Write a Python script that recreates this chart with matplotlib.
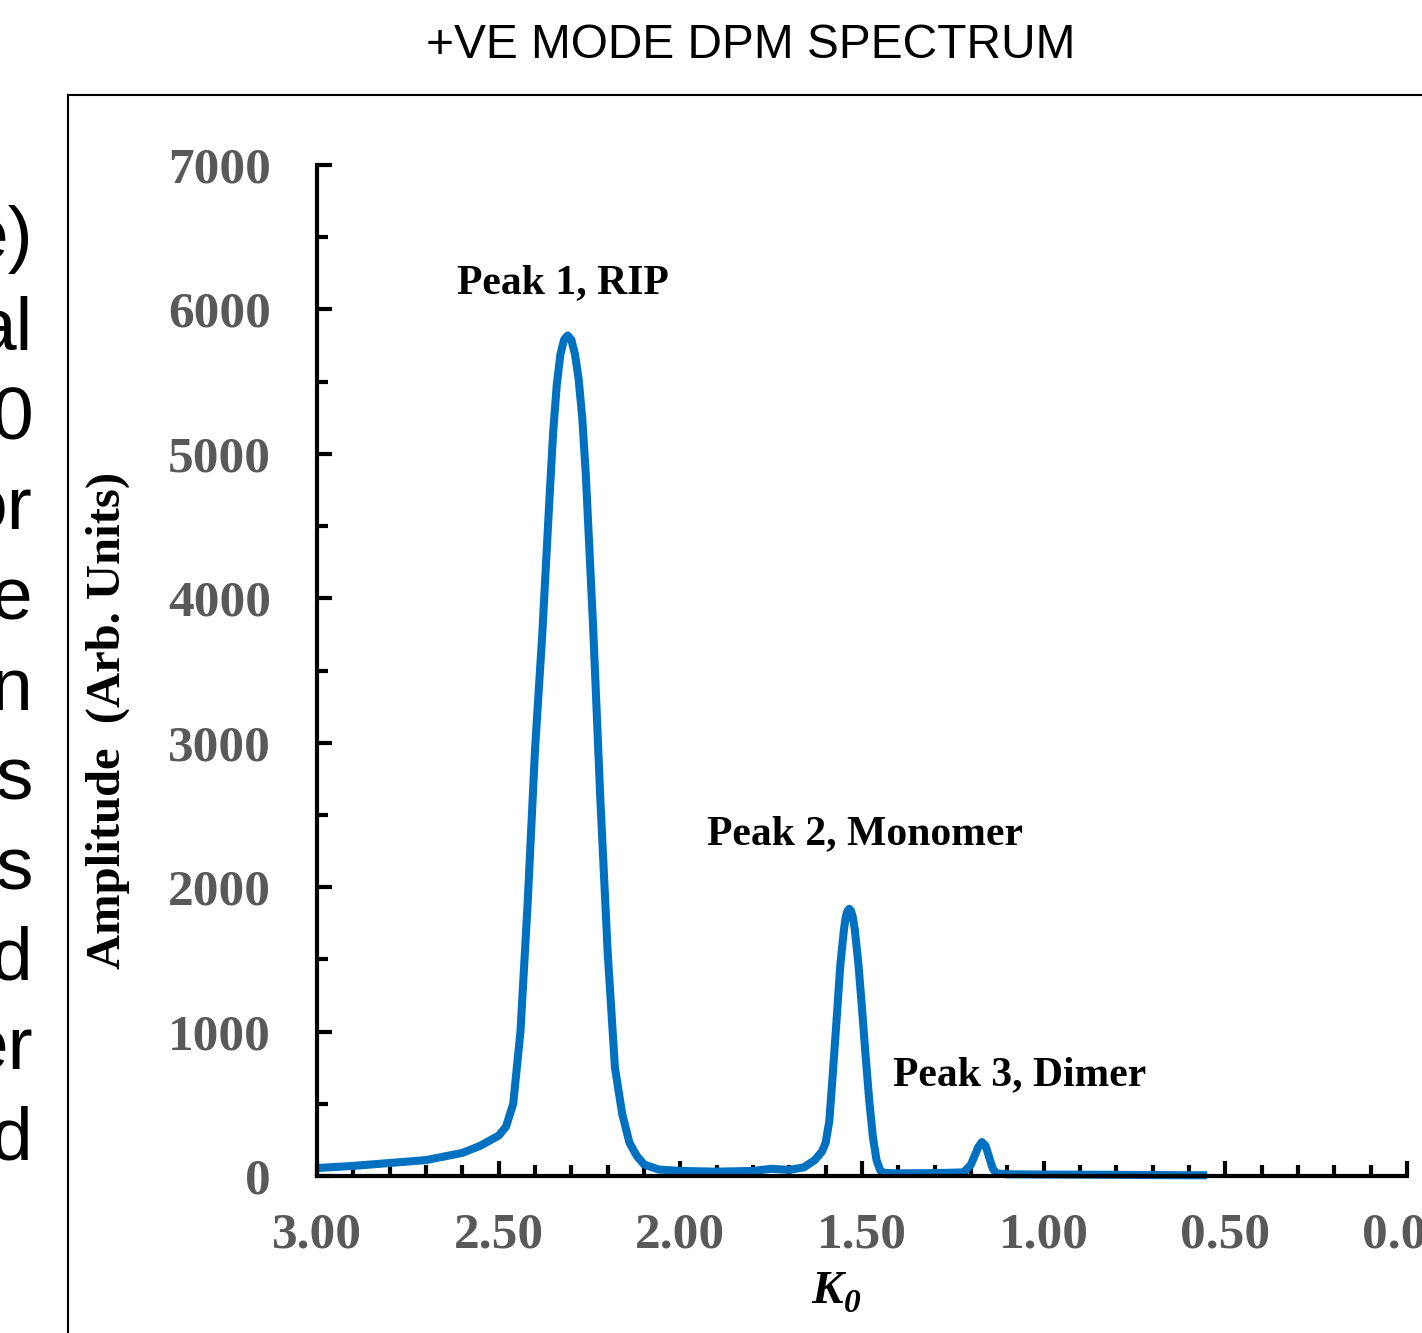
import numpy as np
import matplotlib.pyplot as plt
from matplotlib.lines import Line2D
from matplotlib.ticker import MultipleLocator, FormatStrFormatter

W, H = 1422, 1333

# spectrum
k0 = [3.00, 2.90, 2.80, 2.70, 2.60, 2.55, 2.50, 2.48, 2.46, 2.44, 2.42, 2.40,
      2.38, 2.36, 2.35, 2.34, 2.33, 2.32, 2.31, 2.30, 2.29, 2.28, 2.27, 2.26,
      2.24, 2.22, 2.20, 2.18, 2.16, 2.14, 2.12, 2.10, 2.06, 2.00, 1.90, 1.80,
      1.75, 1.70, 1.66, 1.63, 1.61, 1.60, 1.59, 1.58, 1.57, 1.56, 1.55, 1.545,
      1.54, 1.535, 1.53, 1.525, 1.52, 1.51, 1.50, 1.49, 1.48, 1.47, 1.46, 1.45,
      1.44, 1.40, 1.30, 1.22, 1.20, 1.18, 1.17, 1.16, 1.15, 1.14, 1.13, 1.10,
      1.00, 0.80, 0.60, 0.55]
amplitude = [55, 70, 90, 110, 160, 210, 280, 340, 500, 1000, 1900, 2950,
             3750, 4700, 5150, 5480, 5690, 5790, 5820, 5790, 5690, 5520, 5250, 4850,
             3800, 2600, 1550, 750, 430, 230, 140, 80, 45, 35, 30, 35,
             50, 42, 60, 110, 170, 230, 380, 720, 1080, 1450, 1700, 1790,
             1835, 1850, 1835, 1790, 1710, 1470, 1160, 830, 520, 270, 110, 40,
             22, 18, 20, 25, 80, 200, 235, 210, 130, 50, 18, 12,
             10, 8, 5, 5]

peak_labels = ['Peak 1, RIP', 'Peak 2, Monomer', 'Peak 3, Dimer']
peak_label_x = [2.323, 1.492, 1.065]
peak_label_y = [6180, 2370, 700]

# cut-off paragraph text at the left edge of the screenshot
side_text = ['e)', 'al', '0', 'or', 'e', 'n', 's', 's', 'd', 'er', 'd']

serif = 'Liberation Serif'
gray = '#595959'

fig = plt.figure(figsize=(W / 100, H / 100), dpi=100)
ax = fig.add_axes([317 / W, 1 - 1176 / H, (1407 - 317) / W, (1176 - 165) / H])

ax.plot(k0, amplitude, color='#0070C0', lw=5.8, solid_joinstyle='round',
        solid_capstyle='butt', clip_on=False)

ax.set_xlim(3.0, 0.0)
ax.set_ylim(0, 7000)

for s in ['top', 'right']:
    ax.spines[s].set_visible(False)
for s in ['left', 'bottom']:
    ax.spines[s].set_linewidth(3)

ax.xaxis.set_major_locator(MultipleLocator(0.5))
ax.xaxis.set_minor_locator(MultipleLocator(0.1))
ax.xaxis.set_major_formatter(FormatStrFormatter('%.2f'))
ax.yaxis.set_major_locator(MultipleLocator(1000))
ax.yaxis.set_minor_locator(MultipleLocator(500))

ax.tick_params(which='major', direction='in', length=11, width=3, color='black')
ax.tick_params(which='minor', direction='in', length=8, width=3, color='black')
ax.tick_params(axis='x', which='major', pad=26, labelsize=37, labelcolor=gray)
ax.tick_params(axis='y', which='major', pad=33, labelsize=37, labelcolor=gray)
for lab in ax.get_xticklabels() + ax.get_yticklabels():
    lab.set_fontfamily(serif)
    lab.set_fontweight('bold')

for txt, x, y in zip(peak_labels, peak_label_x, peak_label_y):
    ax.text(x, y, txt, ha='center', va='center', fontsize=30,
            fontweight='bold', family=serif)

fig.text(108 / W, 1 - 720 / H, 'Amplitude  (Arb. Units)', rotation=90,
         ha='center', va='center', fontsize=35, fontweight='bold', family=serif)

# x label: bold italic K with italic subscript 0
fig.text(827 / W, 1 - 1292 / H, 'K', ha='center', va='center', fontsize=34,
         fontweight='bold', fontstyle='italic', family=serif)
fig.text(852 / W, 1 - 1303 / H, '0', ha='center', va='center', fontsize=24,
         fontweight='bold', fontstyle='italic', family=serif)

fig.text(751 / W, 1 - 46 / H, '+VE MODE DPM SPECTRUM', ha='center',
         va='center', fontsize=34.5, family='Liberation Sans')

# outer frame, cut by the right and bottom edges
fig.add_artist(Line2D([68 / W, 68 / W], [0, 1 - 95 / H], color='black', lw=1.5,
                      transform=fig.transFigure))
fig.add_artist(Line2D([68 / W, 1], [1 - 95 / H, 1 - 95 / H], color='black',
                      lw=1.5, transform=fig.transFigure))

for i, t in enumerate(side_text):
    fig.text(33 / W, 1 - (240 + 90 * i) / H, t, ha='right', va='center',
             fontsize=54, family='Liberation Sans')

fig.savefig('out.png', dpi=100)
